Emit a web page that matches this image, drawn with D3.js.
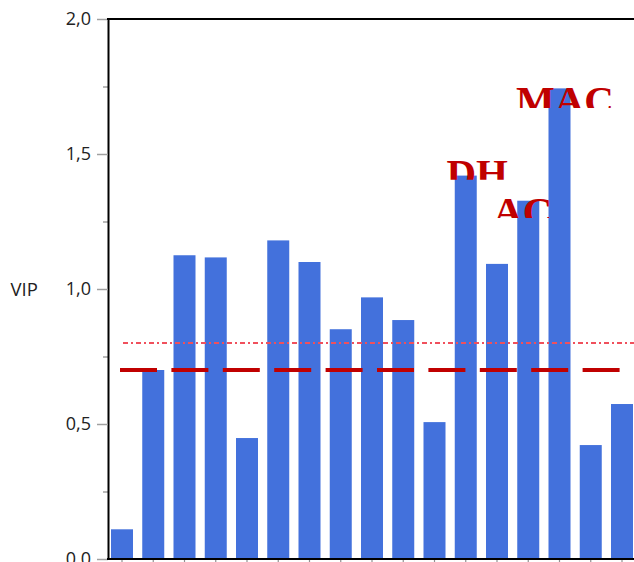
<!DOCTYPE html>
<html>
<head>
<meta charset="utf-8">
<script src="https://cdn.jsdelivr.net/npm/d3@7"></script>
<style>
  html, body { margin: 0; padding: 0; background: #fff; }
  svg { display: block; }
</style>
</head>
<body>
<svg id="chart" width="634" height="562"></svg>
<script>
// ---- data ----
const categories = ["V1","V2","V3","V4","V5","V6","V7","V8","V9","V10","V11","DH","V13","AC","MAC","V16","V17"];
const vipValues  = [0.11, 0.70, 1.125, 1.117, 0.448, 1.18, 1.10, 0.851, 0.969, 0.885, 0.507, 1.42, 1.093, 1.327, 1.743, 0.422, 0.574];
const yTicks     = [0, 0.5, 1.0, 1.5, 2.0];
const yMinorTicks = [0.25, 0.75, 1.25, 1.75];
const thresholdDashed = 0.7;
const thresholdDotted = 0.8;
const yAxisTitle = "VIP";
// annotations: label text, category, baseline value
const annotations = [
  { text: "DH",  cat: "DH",  base: 1.378, dx: 11.5, cut: 7.2 },
  { text: "AC",  cat: "AC",  base: 1.236, dx: -5.5, cut: 7.3 },
  { text: "MAC", cat: "MAC", base: 1.649, dx: 5.5,  cut: 5.8 }
];

// ---- layout ----
const W = 634, H = 562;
const mLeft = 108, mTop = 19, mBottom = 559;
const step = 31.25, padInner = 0.296, padOuter = 0.096;
const mRight = mLeft + step * (categories.length - padInner + 2 * padOuter);

const svg = d3.select("#chart");

const x = d3.scaleBand().domain(categories).range([mLeft, mRight])
  .paddingInner(padInner).paddingOuter(padOuter);
const y = d3.scaleLinear().domain([0, 2]).range([mBottom, mTop]);

const fmt = v => d3.format(".1f")(v).replace(".", ",");

// bars
svg.append("g").selectAll("rect").data(vipValues).join("rect")
  .attr("x", (d, i) => x(categories[i]))
  .attr("width", x.bandwidth())
  .attr("y", d => y(d))
  .attr("height", d => y(0) - y(d))
  .attr("fill", "#4371dc");

// minor y ticks
const minorAxis = svg.append("g").attr("transform", `translate(${mLeft},0)`)
  .call(d3.axisLeft(y).tickValues(yMinorTicks).tickSize(5).tickFormat(""));
minorAxis.select(".domain").remove();
minorAxis.selectAll(".tick line").attr("stroke", "#a0a0a0").attr("stroke-width", 1.5);

// major y axis
const yAxis = svg.append("g").attr("transform", `translate(${mLeft},0)`)
  .call(d3.axisLeft(y).tickValues(yTicks).tickSize(11).tickSizeOuter(0).tickPadding(6).tickFormat(fmt));
yAxis.select(".domain").attr("stroke", "#000").attr("stroke-width", 2);
yAxis.selectAll(".tick line").attr("stroke", "#a0a0a0").attr("stroke-width", 1.5);
yAxis.selectAll(".tick text")
  .attr("font-family", "'Open Sans', sans-serif")
  .attr("font-size", 18)
  .attr("fill", "#222");

// x axis (bottom)
const xAxis = svg.append("g").attr("transform", `translate(0,${mBottom})`)
  .call(d3.axisBottom(x).tickSize(6).tickSizeOuter(0).tickFormat(""));
xAxis.select(".domain").remove();
xAxis.selectAll(".tick line").attr("stroke", "#909090").attr("stroke-width", 1.2);

// frame lines
svg.append("line").attr("x1", mLeft - 1).attr("x2", W + 10)
  .attr("y1", y(0)).attr("y2", y(0)).attr("stroke", "#000").attr("stroke-width", 2);
svg.append("line").attr("x1", mLeft - 1).attr("x2", W + 10)
  .attr("y1", y(2)).attr("y2", y(2)).attr("stroke", "#000").attr("stroke-width", 2);

// threshold lines
svg.append("line").attr("x1", mLeft + 15).attr("x2", W + 10)
  .attr("y1", y(thresholdDotted)).attr("y2", y(thresholdDotted))
  .attr("stroke", "#f0505c").attr("stroke-width", 2).attr("stroke-dasharray", "5,3,2,3");
svg.append("line").attr("x1", mLeft + 12).attr("x2", W + 10)
  .attr("y1", y(thresholdDashed)).attr("y2", y(thresholdDashed))
  .attr("stroke", "#c00000").attr("stroke-width", 4).attr("stroke-dasharray", "37,14.4");

// y axis title
svg.append("text").attr("x", 10.5).attr("y", y(1) + 6.5)
  .attr("font-family", "'Open Sans', sans-serif").attr("font-size", 18.5)
  .attr("fill", "#222").text(yAxisTitle);

// annotations (clipped labels)
const defs = svg.append("defs");
annotations.forEach((a, i) => {
  const cx = x(a.cat) + x.bandwidth() / 2 + a.dx;
  const by = y(a.base);
  defs.append("clipPath").attr("id", "clip" + i)
    .append("rect").attr("x", cx - 80).attr("y", by - 60).attr("width", 160).attr("height", 60 - a.cut);
  svg.append("text")
    .attr("clip-path", `url(#clip${i})`)
    .attr("x", cx).attr("y", by)
    .attr("text-anchor", "middle")
    .attr("font-family", "'Liberation Serif', 'Times New Roman', serif")
    .attr("font-weight", "bold")
    .attr("font-size", 41)
    .attr("fill", "#c00000")
    .text(a.text);
});
</script>
</body>
</html>
